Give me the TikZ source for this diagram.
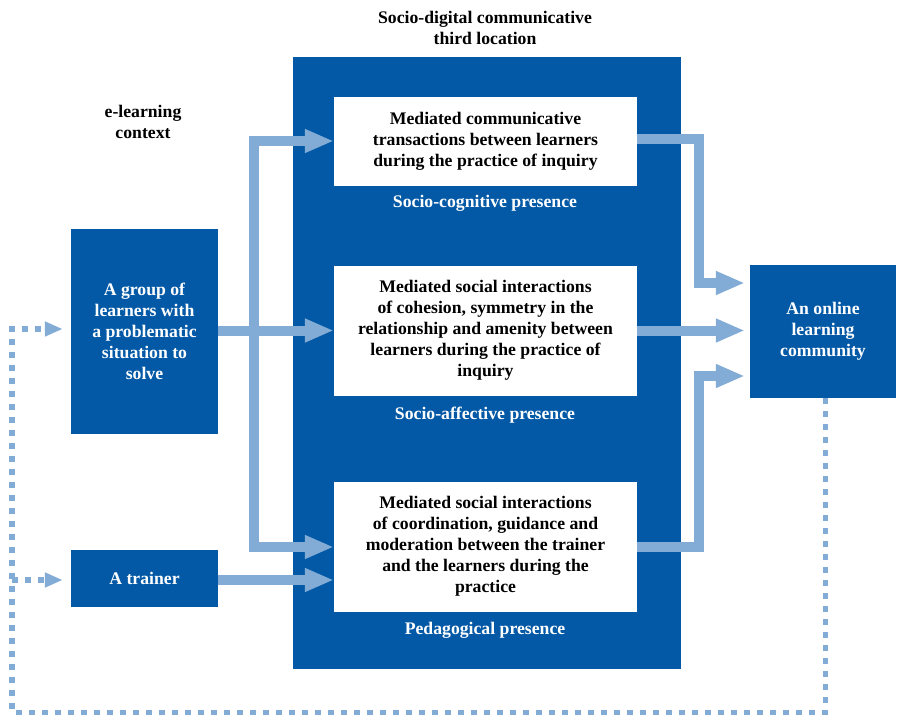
\documentclass[tikz,border=0pt]{standalone}
\usepackage{fontspec}
\setmainfont{Liberation Serif}
\usetikzlibrary{arrows.meta}
\definecolor{darkblue}{HTML}{0459A6}
\definecolor{lightblue}{HTML}{82ACD5}

\begin{document}
\begin{tikzpicture}[x=1pt,y=-1pt,
  every node/.style={font=\bfseries\fontsize{17.7}{21}\selectfont, inner sep=0pt, align=center},
  panel/.style={fill=darkblue, text=white},
  whitebox/.style={fill=white, text=black, minimum width=303pt},
  caption/.style={text=white},
  flow/.style={draw=lightblue, line width=10pt, line join=miter,
               -{Triangle[length=29pt,width=22pt]}},
  loopline/.style={draw=lightblue, line width=5.5pt, dash pattern=on 6pt off 7pt},
  looparrow/.style={loopline, -{Triangle[length=18pt,width=14pt]}, shorten >=8pt}
]
\useasboundingbox (0,0) rectangle (897,717);

% the shared third location
\node[panel, minimum width=388pt, minimum height=612pt] (location) at (487,363) {};
\node (title) at (485,28) {Socio-digital communicative\\third location};
\node (context) at (143,121.5) {e-learning\\context};

% participants
\node[panel, minimum width=147pt, minimum height=205pt] (group) at (144.5,331.5)
  {A group of\\learners with\\a problematic\\situation to\\solve};
\node[panel, minimum width=147pt, minimum height=57pt] (trainer) at (144.5,578.5)
  {A trainer};
\node[panel, minimum width=146pt, minimum height=133pt] (community) at (823,331.5)
  {An online\\learning\\community};

% the three presences
\node[whitebox, minimum height=89pt] (cog) at (485.5,141.5)
  {Mediated communicative\\transactions between learners\\during the practice of inquiry};
\node[caption] (cogcap) at (485,203) {Socio-cognitive presence};
\node[whitebox, minimum height=130pt] (aff) at (485.5,330.5)
  {Mediated social interactions\\of cohesion, symmetry in the\\relationship and amenity between\\learners during the practice of\\inquiry};
\node[caption] (affcap) at (485,415) {Socio-affective presence};
\node[whitebox, minimum height=130pt] (ped) at (485.5,546.5)
  {Mediated social interactions\\of coordination, guidance and\\moderation between the trainer\\and the learners during the\\practice};
\node[caption] (pedcap) at (485,630) {Pedagogical presence};

% routing points
\coordinate (trunktop) at (254,141);
\coordinate (trunkbot) at (254,547);
\coordinate (r1) at (699,283);
\coordinate (r3) at (699,376);
\coordinate (lp) at (12,712.5);
\coordinate (rp) at (825.5,712.5);

% flows into the presences
\draw[flow] (trunkbot) -- (trunktop) -- (cog.west |- trunktop);
\draw[flow] (trunktop) -- (trunkbot) -- (ped.west |- trunkbot);
\draw[flow] (group.east |- aff.west) -- (aff.west);
\draw[flow] (trainer.east |- 0,580) -- (ped.west |- 0,580);

% flows into the community
\draw[flow, shorten >=5pt] (cog.east |- 0,139) -| (r1) -- (community.west |- r1);
\draw[flow, shorten >=5pt] (aff.east) -- (community.west |- aff.east);
\draw[flow, shorten >=5pt] (ped.east) -| (r3) -- (community.west |- r3);

% feedback loop
\draw[looparrow] (community.south -| rp) -- (rp) -- (lp) -- (lp |- 0,329) -- (group.west |- 0,329);
\draw[looparrow] (lp |- 0,580) -- (trainer.west |- 0,580);
\end{tikzpicture}
\end{document}
